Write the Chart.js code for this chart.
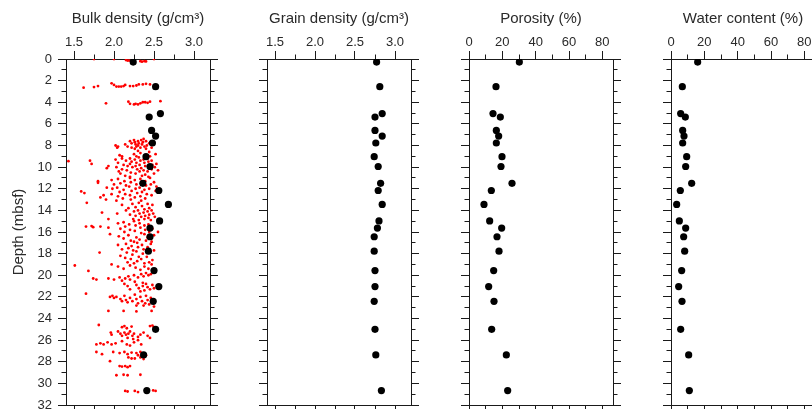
<!DOCTYPE html>
<html>
<head>
<meta charset="utf-8">
<script src="https://cdn.jsdelivr.net/npm/chart.js@4.4.1/dist/chart.umd.min.js"></script>
<style>
  html, body { margin: 0; padding: 0; background: #fff; overflow: hidden; width: 812px; height: 409px; }
  canvas { position: absolute; top: 0; }
</style>
</head>
<body>
<canvas id="bulk" width="240" height="420" style="left:0px"></canvas>
<canvas id="grain" width="224" height="420" style="left:227px"></canvas>
<canvas id="poro" width="224" height="420" style="left:429px"></canvas>
<canvas id="water" width="224" height="420" style="left:631px"></canvas>
<script>
// discrete samples (black dots), same depths in every panel
var sampleDepth = [0.28, 2.56, 5.05, 5.37, 6.61, 7.13, 7.77, 9.03, 9.94, 11.5, 12.16, 13.45, 14.98, 15.64, 16.44, 17.77, 19.57, 21.05, 22.41, 25.0, 27.37, 30.67];
var bulkDensity = [2.24, 2.52, 2.58, 2.44, 2.47, 2.52, 2.48, 2.40, 2.45, 2.36, 2.56, 2.68, 2.57, 2.45, 2.45, 2.43, 2.50, 2.56, 2.49, 2.52, 2.37, 2.41];
var grainDensity = [2.77, 2.81, 2.84, 2.75, 2.75, 2.84, 2.76, 2.74, 2.79, 2.82, 2.79, 2.84, 2.80, 2.78, 2.74, 2.74, 2.75, 2.75, 2.74, 2.75, 2.76, 2.83];
var porosity = [30.2, 16.2, 14.4, 18.8, 16.4, 17.8, 16.4, 19.8, 19.2, 25.8, 13.4, 9.0, 12.4, 19.6, 16.8, 18.0, 14.8, 11.8, 15.0, 13.6, 22.4, 23.2];
var waterContent = [16.0, 6.8, 5.8, 8.6, 7.0, 7.8, 7.0, 9.4, 8.8, 12.4, 5.6, 3.4, 5.0, 8.8, 7.6, 8.2, 6.4, 4.6, 6.6, 5.8, 10.6, 11.0];

// GRA bulk density (red), [depth, density]
var graBulk = [
  [0.0,1.75],[0.0,2.0],[0.1,2.15],[0.15,2.17],[0.15,2.19],[0.2,2.33],[0.25,2.35],[0.2,2.38],[0.22,2.4],[0.0,2.5],
  [2.65,1.62],[2.6,1.75],[2.5,1.8],[2.25,1.97],[2.4,2.0],[2.55,2.03],[2.55,2.06],[2.55,2.09],[2.5,2.12],[2.4,2.14],
  [2.5,2.2],[2.5,2.24],[2.45,2.28],[2.35,2.31],[2.35,2.36],[2.3,2.4],[2.35,2.45],
  [4.1,1.9],[3.95,2.18],[4.15,2.2],[4.2,2.25],[4.15,2.27],[4.2,2.3],[4.1,2.33],[4.0,2.36],[4.0,2.39],[4.05,2.42],[3.95,2.45],[3.9,2.58],
  [8.0,2.02],[8.2,2.04],[8.1,2.05],[7.9,2.14],[8.1,2.17],[7.6,2.2],[7.8,2.22],[8.2,2.22],[7.5,2.25],[7.7,2.26],
  [7.9,2.27],[8.1,2.28],[8.3,2.26],[7.6,2.3],[7.8,2.31],[8.0,2.3],[8.2,2.33],[7.5,2.34],[7.7,2.36],[7.9,2.35],
  [8.1,2.38],[7.6,2.4],[8.0,2.41],[8.3,2.4],[7.8,2.44],[8.2,2.47],[7.4,2.37],
  [8.9,2.07],[9.0,2.1],[8.8,2.25],[9.0,2.28],[8.7,2.33],[8.9,2.4],[8.6,2.44],[9.0,2.45],[8.8,2.52],[8.5,2.3],
  [9.45,1.43],[9.4,1.7],[9.7,1.72],[9.9,1.93],[10.1,1.91],[9.3,2.02],[9.6,2.05],[10.0,2.03],[10.4,2.06],[9.2,2.1],
  [9.8,2.12],[10.2,2.1],[10.6,2.08],[9.4,2.15],[9.9,2.17],[10.3,2.16],[10.8,2.14],[9.2,2.2],[9.5,2.22],[9.7,2.2],
  [10.0,2.23],[10.5,2.21],[10.9,2.2],[9.3,2.26],[9.6,2.28],[9.9,2.27],[10.2,2.29],[10.6,2.27],[9.1,2.31],[9.4,2.33],
  [9.8,2.32],[10.1,2.34],[10.4,2.32],[10.8,2.35],[9.3,2.37],[9.6,2.38],[9.9,2.39],[10.3,2.37],[10.7,2.39],[9.2,2.42],
  [9.5,2.43],[10.0,2.44],[10.4,2.42],[10.9,2.43],[9.4,2.47],[9.8,2.48],[10.2,2.47],[10.6,2.5],[9.7,2.53],[10.3,2.55],[10.0,2.51],
  [11.3,1.8],[11.45,1.8],[11.9,1.91],[12.25,1.59],[12.4,1.63],[12.8,1.83],[12.6,1.87],[13.0,1.9],[13.3,1.66],[11.2,1.97],
  [11.6,2.0],[12.0,1.98],[12.5,1.97],[11.1,2.05],[11.5,2.08],[11.9,2.04],[12.3,2.07],[12.7,2.05],[13.1,2.03],[11.3,2.13],
  [11.7,2.15],[12.1,2.12],[12.5,2.14],[12.9,2.11],[11.0,2.2],[11.4,2.21],[11.8,2.19],[12.2,2.22],[12.6,2.2],[13.0,2.21],
  [11.2,2.26],[11.6,2.28],[12.0,2.27],[12.4,2.29],[12.8,2.26],[11.1,2.33],[11.5,2.34],[11.9,2.32],[12.3,2.35],[12.7,2.33],
  [13.1,2.34],[11.3,2.39],[11.7,2.4],[12.1,2.38],[12.5,2.41],[12.9,2.39],[11.0,2.45],[11.6,2.46],[12.0,2.44],[12.6,2.47],
  [11.4,2.5],[12.2,2.52],[11.8,2.53],
  [13.5,2.1],[13.8,2.18],[13.4,2.23],[13.7,2.27],[13.3,2.31],[13.6,2.35],[13.9,2.38],[13.4,2.42],[13.8,2.44],[13.5,2.48],
  [14.2,1.85],[14.3,2.04],[14.8,1.93],[14.0,2.15],[14.4,2.2],[14.1,2.25],[14.5,2.27],[14.8,2.24],[14.0,2.3],[14.3,2.32],
  [14.6,2.34],[14.9,2.31],[14.2,2.37],[14.5,2.39],[14.8,2.38],[14.1,2.42],[14.4,2.44],[14.7,2.43],[14.3,2.49],[14.6,2.51],
  [14.0,2.47],[14.9,2.46],
  [15.5,1.65],[15.45,1.72],[15.55,1.74],[15.5,1.83],[15.6,1.93],[16.2,1.95],[15.2,2.05],[15.7,2.08],[16.4,2.06],[15.1,2.12],
  [15.5,2.14],[16.0,2.13],[16.6,2.12],[15.3,2.19],[15.8,2.2],[16.3,2.18],[16.8,2.21],[15.0,2.25],[15.4,2.27],[15.9,2.26],
  [16.5,2.28],[16.9,2.25],[15.2,2.32],[15.6,2.33],[16.1,2.34],[16.7,2.32],[15.4,2.38],[15.8,2.39],[16.2,2.38],[16.8,2.4],
  [15.3,2.43],[16.0,2.44],[16.5,2.42],[15.7,2.48],[16.3,2.5],[16.9,2.47],[16.0,2.55],
  [17.2,2.05],[17.6,2.1],[18.2,2.08],[17.1,2.15],[17.5,2.18],[17.9,2.16],[18.4,2.14],[18.8,2.17],[17.3,2.22],[17.7,2.24],
  [18.1,2.23],[18.5,2.21],[18.9,2.25],[17.0,2.29],[17.4,2.3],[17.8,2.28],[18.3,2.31],[18.7,2.29],[17.2,2.35],[17.6,2.37],
  [18.0,2.36],[18.5,2.34],[18.9,2.38],[17.4,2.42],[17.9,2.43],[18.3,2.41],[18.8,2.44],[17.1,2.46],[17.7,2.5],[18.6,2.48],
  [17.9,1.82],[19.1,1.51],[19.0,1.97],[19.2,2.05],[19.4,2.12],[19.1,2.2],[19.3,2.27],[19.5,2.33],[19.2,2.38],[19.4,2.43],
  [19.0,2.47],[19.5,2.52],[19.6,1.68],
  [20.3,1.74],[20.4,1.78],[20.3,1.93],[20.4,2.0],[20.2,2.07],[20.5,2.1],[20.3,2.14],[20.1,2.18],[20.4,2.2],[20.0,2.25],
  [20.2,2.3],[19.9,2.34],[20.1,2.37],[19.8,2.4],[20.0,2.43],[19.9,2.46],[20.6,2.26],[20.8,2.13],[21.0,2.17],[21.3,2.2],
  [20.9,2.28],[21.2,2.31],[21.0,2.36],[21.4,2.38],[20.8,2.4],[21.1,2.42],[21.3,2.45],[20.9,2.48],[21.2,2.5],[21.5,2.33],[20.7,2.36],
  [21.7,1.65],[22.0,1.95],[21.9,1.98],[22.1,2.0],[22.0,2.03],[22.2,2.08],[22.4,2.1],[21.9,2.13],[22.3,2.15],[22.5,2.17],
  [22.1,2.2],[22.4,2.23],[21.8,2.26],[22.2,2.28],[22.6,2.3],[22.0,2.33],[22.4,2.35],[22.8,2.37],[21.9,2.4],[22.3,2.42],
  [22.7,2.44],[22.1,2.46],[22.5,2.48],[22.9,2.5],[22.6,2.39],[22.8,2.28],[23.3,1.93],[23.3,2.12],[23.35,2.28],[23.3,2.47],
  [24.6,1.81],[24.8,2.1],[24.7,2.13],[24.9,2.16],[24.75,2.22],[24.7,2.45],[24.65,2.48],[24.8,2.5],[25.3,1.96],[25.5,1.97],
  [25.2,2.05],[25.4,2.08],[25.6,2.1],[25.3,2.13],[25.5,2.15],[25.4,2.18],[25.2,2.2],[25.6,2.23],[25.4,2.25],[25.8,2.17],
  [25.9,2.24],[25.7,2.3],[25.5,2.33],[25.3,2.37],[25.6,2.42],[25.8,2.45],[26.4,1.78],[26.3,1.83],[26.4,1.87],[26.2,1.92],
  [26.4,1.97],[26.3,2.02],[26.1,2.1],[26.4,2.16],[26.2,2.25],[26.0,2.3],[26.4,2.34],[26.5,2.2],
  [27.1,1.78],[27.3,1.85],[27.1,1.99],[27.2,2.07],[27.1,2.13],[27.3,2.17],[27.15,2.22],[27.2,2.28],[27.4,2.3],[27.1,2.33],
  [27.3,2.36],[27.4,2.4],[27.6,2.18],[27.7,2.26],[27.6,2.33],[27.75,2.37],[27.95,1.95],[27.7,2.22],
  [28.4,2.07],[28.45,2.1],[28.4,2.14],[28.5,2.17],[28.4,2.2],[29.25,2.03],[29.2,2.12],[29.25,2.17],[29.2,2.33],
  [30.7,2.14],[30.75,2.17],[30.7,2.26],[30.8,2.3],[30.7,2.41],[30.65,2.49],[30.7,2.52]
];

// ticks
var depthTicks = [0, 2, 4, 6, 8, 10, 12, 14, 16, 18, 20, 22, 24, 26, 28, 30, 32];
var depthMinor = [1, 3, 5, 7, 9, 11, 13, 15, 17, 19, 21, 23, 25, 27, 29, 31];
var densityTicks = [1.5, 2.0, 2.5, 3.0];
var densityMinor = [1.75, 2.25, 2.75];
var percentTicks = [0, 20, 40, 60, 80];
var percentMinor = [10, 30, 50, 70];

var lineColor = '#1a1a1a';
var textColor = '#2a2a2a';
var fontFamily = '"Liberation Sans", Arial, sans-serif';

// short ticks between the labelled ones
var minorTicks = {
  id: 'minorTicks',
  afterDraw: function (chart, args, opts) {
    var ctx = chart.ctx;
    var len = opts.length;
    ctx.save();
    ctx.strokeStyle = lineColor;
    ctx.lineWidth = 1;
    ctx.beginPath();
    Object.values(chart.scales).forEach(function (s) {
      var vals = s.axis === 'x' ? opts.x : opts.y;
      vals.forEach(function (v) {
        var p = Math.floor(s.getPixelForValue(v)) + 0.5;
        if (s.position === 'left') { ctx.moveTo(s.right - len, p); ctx.lineTo(s.right, p); }
        if (s.position === 'right') { ctx.moveTo(s.left, p); ctx.lineTo(s.left + len, p); }
        if (s.position === 'top') { ctx.moveTo(p, s.bottom - len); ctx.lineTo(p, s.bottom); }
        if (s.position === 'bottom') { ctx.moveTo(p, s.top); ctx.lineTo(p, s.top + len); }
      });
    });
    ctx.stroke();
    ctx.restore();
  }
};

function setTicks(list) {
  return function (s) {
    s.ticks = list.map(function (v) { return { value: v }; });
  };
}

function axisBase(pos) {
  return {
    position: pos,
    grid: { drawOnChartArea: false, drawTicks: true, tickLength: 8, color: lineColor, lineWidth: 1 },
    border: { display: true, color: lineColor, width: 1 }
  };
}

function panel(id, opt) {
  var xTop = axisBase('top');
  xTop.min = opt.xMin; xTop.max = opt.xMax;
  xTop.afterBuildTicks = setTicks(opt.xTicks);
  xTop.ticks = { display: true, color: textColor, font: { family: fontFamily, size: 13 }, padding: 1, maxRotation: 0, autoSkip: false, callback: opt.fmt };
  xTop.title = { display: true, text: opt.title, color: textColor, font: { family: fontFamily, size: 15 }, padding: { top: 10, bottom: 0 } };
  xTop.afterFit = function (s) { s.height = 59; };

  var xBot = axisBase('bottom');
  xBot.min = opt.xMin; xBot.max = opt.xMax;
  xBot.afterBuildTicks = setTicks(opt.xTicks);
  xBot.ticks = { display: false };
  xBot.afterFit = function (s) { s.height = 15; };

  var yLeft = axisBase('left');
  yLeft.min = 0; yLeft.max = 32; yLeft.reverse = true;
  yLeft.afterBuildTicks = setTicks(depthTicks);
  yLeft.ticks = { display: opt.depthLabels, color: textColor, font: { family: fontFamily, size: 13 }, padding: 6, autoSkip: false };
  yLeft.title = { display: opt.depthLabels, text: 'Depth (mbsf)', color: textColor, font: { family: fontFamily, size: 15 }, padding: { top: 10, bottom: 0 } };
  yLeft.afterFit = function (s) { s.width = opt.leftWidth; };

  var yRight = axisBase('right');
  yRight.min = 0; yRight.max = 32; yRight.reverse = true;
  yRight.afterBuildTicks = setTicks(depthTicks);
  yRight.ticks = { display: false };
  yRight.afterFit = function (s) { s.width = opt.rightWidth; };

  new Chart(document.getElementById(id), {
    type: 'scatter',
    data: { datasets: opt.datasets },
    options: {
      responsive: false,
      animation: false,
      devicePixelRatio: 1,
      events: [],
      layout: { padding: 0 },
      plugins: {
        legend: { display: false },
        tooltip: { enabled: false },
        minorTicks: { x: opt.xMinor, y: depthMinor, length: 4.5 }
      },
      scales: { x: xTop, x2: xBot, y: yLeft, y2: yRight }
    },
    plugins: [minorTicks]
  });
}

function blackDots(values) {
  return {
    data: sampleDepth.map(function (d, i) { return { x: values[i], y: d }; }),
    xAxisID: 'x', yAxisID: 'y',
    pointRadius: 3.6, pointBorderWidth: 0,
    backgroundColor: '#000', borderColor: '#000',
    order: 0
  };
}

var fmtDensity = function (v) { return Number(v).toFixed(1); };
var fmtPercent = function (v) { return String(v); };

panel('bulk', {
  title: 'Bulk density (g/cm\u00B3)', xMin: 1.4, xMax: 3.2,
  xTicks: densityTicks, xMinor: densityMinor, fmt: fmtDensity,
  depthLabels: true, leftWidth: 66, rightWidth: 30,
  datasets: [
    blackDots(bulkDensity),
    {
      data: graBulk.map(function (p) { return { x: p[1], y: p[0] }; }),
      xAxisID: 'x', yAxisID: 'y',
      pointRadius: 1.4, pointBorderWidth: 0,
      backgroundColor: '#ff0000', borderColor: '#ff0000',
      order: 1
    }
  ]
});

panel('grain', {
  title: 'Grain density (g/cm\u00B3)', xMin: 1.4, xMax: 3.2,
  xTicks: densityTicks, xMinor: densityMinor, fmt: fmtDensity,
  depthLabels: false, leftWidth: 40, rightWidth: 40,
  datasets: [blackDots(grainDensity)]
});

panel('poro', {
  title: 'Porosity (%)', xMin: 0, xMax: 86.4,
  xTicks: percentTicks, xMinor: percentMinor, fmt: fmtPercent,
  depthLabels: false, leftWidth: 40, rightWidth: 40,
  datasets: [blackDots(porosity)]
});

panel('water', {
  title: 'Water content (%)', xMin: 0, xMax: 86.4,
  xTicks: percentTicks, xMinor: percentMinor, fmt: fmtPercent,
  depthLabels: false, leftWidth: 40, rightWidth: 40,
  datasets: [blackDots(waterContent)]
});
</script>
</body>
</html>
